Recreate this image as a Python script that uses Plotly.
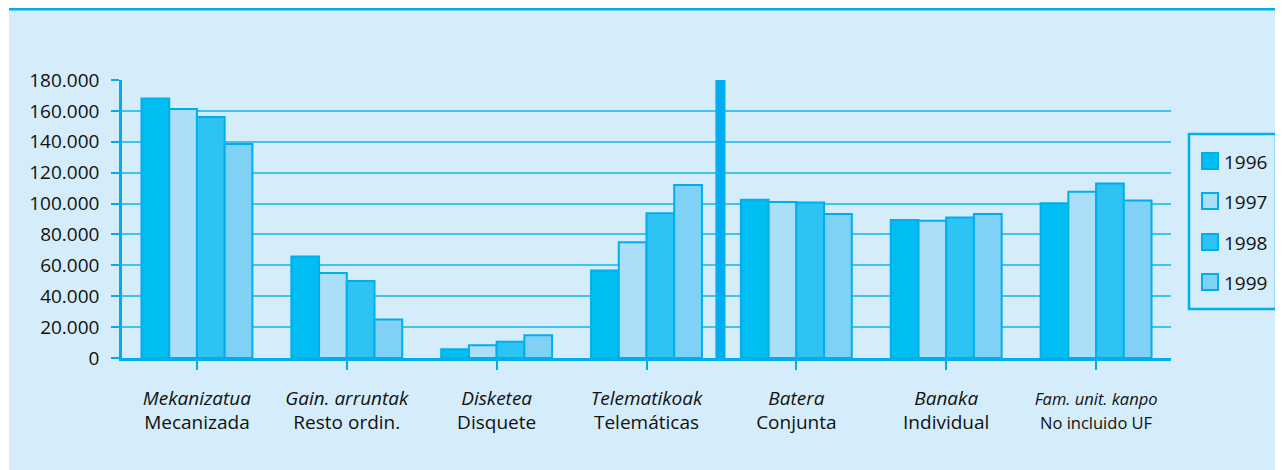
import plotly.graph_objects as go

categories = [
    "<i>Mekanizatua</i><br>Mecanizada",
    "<i>Gain. arruntak</i><br>Resto ordin.",
    "<i>Disketea</i><br>Disquete",
    "<i>Telematikoak</i><br>Telemáticas",
    "<i>Batera</i><br>Conjunta",
    "<i>Banaka</i><br>Individual",
    "<span style=\"font-size:16.5px\"><i>Fam. unit. kanpo</i><br>No incluido UF</span>",
]
years = ["1996", "1997", "1998", "1999"]
v1996 = [168000, 65700, 5600, 56700, 102400, 89400, 100200]
v1997 = [161300, 55000, 8200, 75000, 101000, 88800, 107600]
v1998 = [156000, 49800, 10600, 93700, 100700, 91000, 113000]
v1999 = [138600, 25000, 14700, 112000, 93300, 93300, 102000]
series = [v1996, v1997, v1998, v1999]
colors = ["#00BEF2", "#AADFF7", "#2DC3F3", "#7FD2F6"]
yticks = [0, 20000, 40000, 60000, 80000, 100000, 120000, 140000, 160000, 180000]

CYAN = "#00AEEF"
BG = "#D5EDFA"
FONT = "Open Sans"

# plot area in page pixels (used to place decorations in paper coords)
PX0, PX1, PY0, PY1 = 122, 1171, 358, 80


def px(x):
    return (x - PX0) / (PX1 - PX0)


def py(y):
    return (PY0 - y) / (PY0 - PY1)


fig = go.Figure()
for i, (yr, vals) in enumerate(zip(years, series)):
    fig.add_trace(go.Bar(
        name=yr, x=list(range(len(categories))), y=vals,
        marker=dict(color=colors[i], line=dict(color=CYAN, width=2)),
        showlegend=False,
    ))

# panel background + top rule
fig.add_shape(type="rect", xref="paper", yref="paper",
              x0=px(9), x1=px(1290), y0=py(480), y1=py(9),
              fillcolor=BG, line=dict(width=0), layer="below")
fig.add_shape(type="line", xref="paper", yref="paper",
              x0=px(9), x1=px(1290), y0=py(9), y1=py(9),
              line=dict(color=CYAN, width=3), layer="below")
# separator
fig.add_shape(type="rect", xref="x", yref="y",
              x0=3.5 - 0.04, x1=3.5 + 0.027, y0=-6000, y1=180000,
              fillcolor=CYAN, line=dict(width=0), layer="above")

# legend (drawn manually)
fig.add_shape(type="rect", xref="paper", yref="paper",
              x0=px(1189), x1=px(1276), y0=py(309), y1=py(134),
              fillcolor=BG, line=dict(color=CYAN, width=2.5))
legend_y = [161, 201, 242, 282]
for i, yr in enumerate(years):
    cy = legend_y[i]
    fig.add_shape(type="rect", xref="paper", yref="paper",
                  x0=px(1202), x1=px(1218), y0=py(cy + 8), y1=py(cy - 8),
                  fillcolor=colors[i], line=dict(color=CYAN, width=2))
    fig.add_annotation(xref="paper", yref="paper", x=px(1222), y=py(cy + 1),
                       text=yr, showarrow=False, xanchor="left", yanchor="middle",
                       font=dict(size=19, family=FONT, color="#111111"))

fig.update_layout(
    width=1275, height=462,
    margin=dict(l=114, r=112, t=72, b=112, autoexpand=False),
    paper_bgcolor="white", plot_bgcolor="rgba(0,0,0,0)",
    barmode="group", bargap=0.26, bargroupgap=0,
    separators=",.",
    font=dict(family=FONT, size=19, color="#111111"),
    showlegend=False,
)
fig.update_xaxes(
    tickmode="array", tickvals=list(range(len(categories))), ticktext=categories,
    range=[-0.5, 6.5],
    showline=True, linecolor=CYAN, linewidth=2.5,
    ticks="outside", tickson="boundaries", ticklen=9, tickwidth=2, tickcolor=CYAN,
    showgrid=False, ticklabelstandoff=12, zeroline=False,
    tickfont=dict(size=19),
)
fig.update_yaxes(
    range=[0, 180000], tickvals=yticks, tickformat=",d",
    showline=True, linecolor=CYAN, linewidth=2.5,
    ticks="outside", ticklen=8, tickwidth=2, tickcolor=CYAN,
    showgrid=True, gridcolor="#3EC3F2", gridwidth=1.5,
    zeroline=False, ticklabelstandoff=8,
    tickfont=dict(size=19),
)
fig.write_html("out.html")
